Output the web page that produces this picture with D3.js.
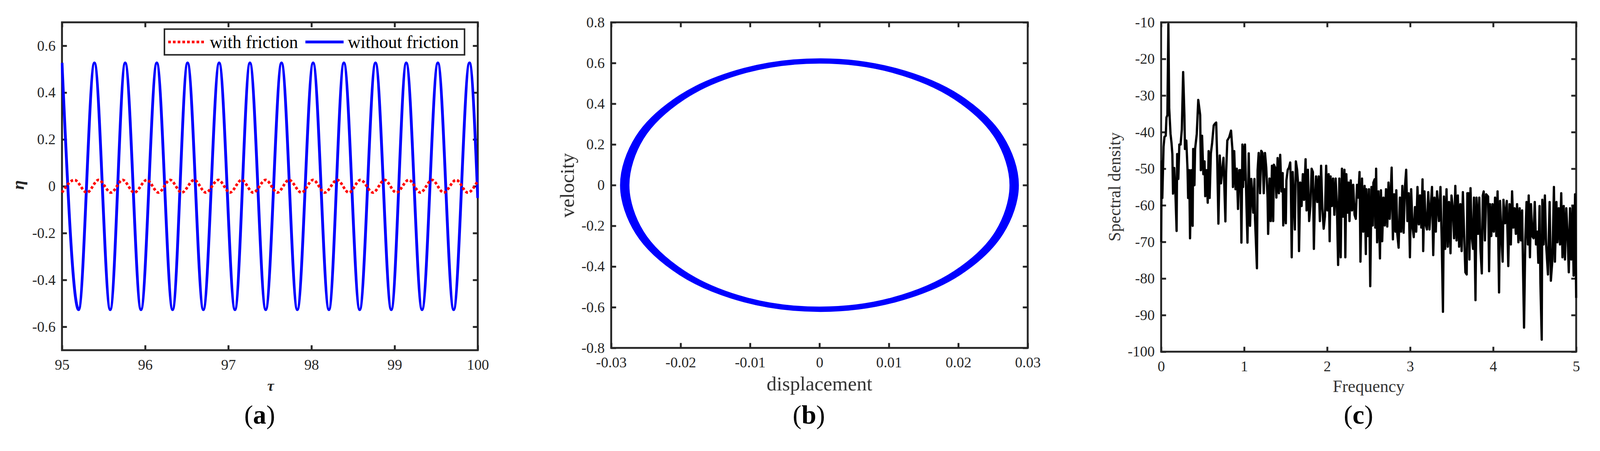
<!DOCTYPE html>
<html><head><meta charset="utf-8">
<script src="https://cdn.jsdelivr.net/npm/d3@7"></script>
<style>html,body{margin:0;padding:0;background:#fff;overflow:hidden;} svg{display:block;}</style>
</head><body>
<svg id="fig" width="100%" viewBox="0 0 4233 1154" preserveAspectRatio="xMinYMin meet"></svg>
<script>
// ---------------- DATA ----------------
// (a) time history
const tauTicks = [95, 96, 97, 98, 99, 100];
const tauTickLabels = ["95", "96", "97", "98", "99", "100"];
const etaTicks = [-0.6, -0.4, -0.2, 0, 0.2, 0.4, 0.6];
const etaTickLabels = ["-0.6", "-0.4", "-0.2", "0", "0.2", "0.4", "0.6"];
const seriesNames = ["with friction", "without friction"];
// extrema (tau, eta)
const withoutFriction = [
  [95.00, 0.527], [95.20, -0.527], [95.39, 0.527], [95.58, -0.527], [95.76, 0.527], [95.95, -0.527],
  [96.14, 0.527], [96.33, -0.527], [96.51, 0.527], [96.70, -0.527], [96.89, 0.527], [97.08, -0.527],
  [97.26, 0.527], [97.45, -0.527], [97.64, 0.527], [97.83, -0.527], [98.02, 0.527], [98.21, -0.527],
  [98.39, 0.527], [98.58, -0.527], [98.77, 0.527], [98.96, -0.527], [99.14, 0.527], [99.33, -0.527],
  [99.52, 0.527], [99.71, -0.527], [99.90, 0.527], [100.0, -0.05]
];
const withFriction = [
  [95.00, -0.027], [95.15, 0.027], [95.30, -0.027], [95.44, 0.027], [95.59, -0.027], [95.73, 0.027],
  [95.87, -0.027], [96.02, 0.027], [96.16, -0.027], [96.30, 0.027], [96.44, -0.027], [96.59, 0.027],
  [96.73, -0.027], [96.88, 0.027], [97.02, -0.027], [97.16, 0.027], [97.30, -0.027], [97.45, 0.027],
  [97.59, -0.027], [97.73, 0.027], [97.88, -0.027], [98.02, 0.027], [98.16, -0.027], [98.31, 0.027],
  [98.45, -0.027], [98.59, 0.027], [98.74, -0.027], [98.88, 0.027], [99.02, -0.027], [99.17, 0.027],
  [99.31, -0.027], [99.45, 0.027], [99.59, -0.027], [99.74, 0.027], [99.88, -0.027], [100.0, 0.023]
];

// (b) phase portrait
const dispTicks = [-0.03, -0.02, -0.01, 0, 0.01, 0.02, 0.03];
const dispTickLabels = ["-0.03", "-0.02", "-0.01", "0", "0.01", "0.02", "0.03"];
const velTicks = [-0.8, -0.6, -0.4, -0.2, 0, 0.2, 0.4, 0.6, 0.8];
const velTickLabels = ["-0.8", "-0.6", "-0.4", "-0.2", "0", "0.2", "0.4", "0.6", "0.8"];
const orbitInner = [[0.0277,0],[0.0256,0.233],[0.0196,0.430],[0.0106,0.562],[0,0.608],[-0.0106,0.562],[-0.0196,0.430],[-0.0256,0.233],
  [-0.0277,0],[-0.0256,-0.233],[-0.0196,-0.430],[-0.0106,-0.562],[0,-0.608],[0.0106,-0.562],[0.0196,-0.430],[0.0256,-0.233]];
const orbitMiddle = [[0.02805,0],[0.0259,0.2335],[0.0198,0.4315],[0.0107,0.5635],[0.0001,0.610],[-0.0107,0.5635],[-0.0198,0.4315],[-0.0259,0.2335],
  [-0.02805,0],[-0.0259,-0.2335],[-0.0198,-0.4315],[-0.0107,-0.5635],[0.0001,-0.610],[0.0107,-0.5635],[0.0198,-0.4315],[0.0259,-0.2335]];
const orbitOuter = [[0.0284,0],[0.0262,0.234],[0.0201,0.433],[0.0109,0.565],[0.0002,0.612],[-0.0108,0.565],[-0.0200,0.433],[-0.0262,0.234],
  [-0.0284,0],[-0.0262,-0.234],[-0.0200,-0.433],[-0.0108,-0.565],[0.0002,-0.612],[0.0109,-0.565],[0.0201,-0.433],[0.0262,-0.234]];

// (c) spectrum (frequency, spectral density)
const freqTicks = [0, 1, 2, 3, 4, 5];
const freqTickLabels = ["0", "1", "2", "3", "4", "5"];
const psdTicks = [-100, -90, -80, -70, -60, -50, -40, -30, -20, -10];
const psdTickLabels = ["-100", "-90", "-80", "-70", "-60", "-50", "-40", "-30", "-20", "-10"];
const spectrum = [
 [0,-70],[0.006,-48],[0.014,-58],[0.029,-44],[0.040,-41.3],[0.055,-41],[0.064,-36],[0.075,-35.4],[0.087,-10.5],[0.097,-33.5],
 [0.113,-40.5],[0.125,-43],[0.135,-46],[0.143,-56.8],[0.158,-49.8],[0.173,-57.5],[0.186,-67],[0.193,-46],[0.207,-52.8],[0.219,-43.4],
 [0.234,-43.4],[0.249,-39.3],[0.265,-23.6],[0.280,-35.3],[0.287,-44.6],[0.303,-42.3],[0.318,-50.4],[0.325,-58],[0.338,-50.4],[0.348,-69],
 [0.363,-50.4],[0.379,-65.6],[0.386,-44.6],[0.401,-54.5],[0.409,-44.6],[0.429,-40.5],[0.447,-31.2],[0.470,-35.3],[0.478,-50.4],[0.493,-41],
 [0.508,-51.5],[0.523,-48],[0.531,-57.5],[0.546,-50.4],[0.561,-59.3],[0.572,-45.2],[0.584,-58],[0.599,-45.8],[0.614,-43],[0.633,-38.2],
 [0.648,-37.7],[0.663,-37.4],[0.675,-47],[0.690,-65],[0.706,-46.4],[0.721,-54],[0.736,-50.4],[0.751,-47],[0.774,-64.4],[0.782,-51.5],
 [0.797,-42.3],[0.820,-41.4],[0.842,-39.6],[0.858,-44.6],[0.865,-55],[0.880,-45.2],[0.896,-55.6],[0.911,-50],[0.926,-61],[0.941,-50.4],
 [0.957,-50.4],[0.967,-70.2],[0.979,-43.4],[0.987,-55],[0.995,-44],[1.003,-53],[1.010,-43.4],[1.025,-57.5],[1.040,-70.2],[1.055,-45.8],
 [1.071,-65.6],[1.086,-52.8],[1.109,-62],[1.124,-52.8],[1.131,-63.8],[1.154,-77.2],[1.162,-50.4],
 [1.175,-45.7],[1.191,-56.7],[1.206,-45.1],[1.221,-45.7],[1.236,-56.7],[1.251,-45.7],[1.266,-49.7],[1.282,-57.9],[1.289,-67.8],[1.305,-52.7],
 [1.320,-64.3],[1.335,-49.2],[1.350,-64.3],[1.358,-48.9],[1.373,-49.7],[1.388,-57.9],[1.403,-47.1],[1.418,-56.7],[1.434,-46.2],[1.449,-56.2],
 [1.464,-51.2],[1.471,-65.5],[1.487,-55.6],[1.502,-64.9],[1.509,-53.2],[1.525,-50.3],[1.540,-49.7],[1.555,-48.3],[1.562,-53.8],[1.573,-74.2],
 [1.585,-50.9],[1.600,-59.1],[1.611,-66.6],[1.623,-48],[1.638,-50.3],[1.649,-53.8],[1.661,-72.5],[1.676,-53.8],[1.692,-60.2],[1.707,-51.5],
 [1.722,-58.5],[1.740,-47.4],[1.752,-61.4],[1.768,-50.3],[1.783,-64.3],[1.798,-60.2],[1.813,-50],[1.828,-50.9],[1.840,-71.9],[1.851,-59.1],
 [1.866,-52.1],[1.881,-59.1],[1.897,-52.1],[1.912,-64.3],[1.927,-49.2],[1.942,-60.8],[1.958,-66.4],[1.973,-63.1],[1.988,-49.2],[2.003,-61.4],
 [2.018,-51.5],[2.030,-69.8],[2.041,-52.1],[2.056,-60.2],[2.071,-52.7],[2.087,-62.6],[2.102,-52.7],[2.117,-59.7],[2.132,-76.3],[2.147,-52.7],
 [2.163,-74.2],[2.178,-50],[2.193,-63.1],[2.208,-50.3],[2.219,-74.2],[2.231,-51.5],[2.246,-62],[2.257,-53.8],[2.269,-64.3],[2.284,-53.2],
 [2.299,-61.4],[2.314,-54.4],[2.330,-62.6],[2.345,-63.7],[2.360,-54.4],[2.375,-57.9],[2.390,-50.9],[2.401,-75.4],
 [2.420,-52.7],[2.435,-67.2],[2.451,-54.7],[2.466,-73.3],[2.473,-55.6],[2.489,-68.4],[2.504,-55.6],[2.519,-82.1],[2.534,-55],[2.549,-65.5],
 [2.557,-53.8],[2.572,-52.9],[2.580,-66.1],[2.590,-50],[2.602,-70.1],[2.618,-56.2],[2.636,-74.5],[2.648,-55.9],[2.663,-69.8],[2.678,-57.9],
 [2.694,-65.5],[2.709,-55.6],[2.724,-65.8],[2.739,-53.8],[2.754,-63.7],[2.777,-49.7],[2.792,-69.3],[2.807,-57],[2.823,-67.2],[2.833,-55.9],
 [2.845,-67.8],[2.861,-71.6],[2.876,-57.9],[2.891,-67.2],[2.906,-54.7],[2.921,-67.5],[2.937,-55],[2.952,-50.3],[2.967,-64.3],[2.982,-56.7],
 [2.997,-74.2],[3.012,-55.6],[3.028,-65.8],[3.043,-68.7],[3.058,-60.5],[3.073,-67.2],[3.088,-55],[3.104,-65.2],[3.119,-57.3],[3.134,-66.1],
 [3.149,-52.9],[3.157,-72.5],[3.172,-56.2],[3.187,-65.2],[3.202,-66.6],[3.218,-56.4],[3.233,-66.6],[3.248,-60.2],[3.263,-55],[3.278,-73.6],
 [3.293,-57.9],[3.309,-67.2],[3.324,-56.2],[3.347,-64.3],[3.365,-55],[3.380,-69.6],[3.395,-89.1],[3.407,-57.6],[3.422,-71.9],[3.438,-55.6],
 [3.453,-71.3],[3.468,-59.1],[3.486,-73.1],[3.498,-57.3],[3.514,-60.8],[3.529,-69],[3.544,-54.7],[3.559,-69.6],[3.574,-57.3],[3.590,-71.3],
 [3.605,-59.7],[3.620,-72.5],[3.635,-56.4],[3.650,-67.8],[3.665,-78.3],
 [3.681,-78.9],[3.689,-56.7],[3.704,-56.7],[3.714,-74.8],[3.727,-55.3],[3.742,-68.4],[3.757,-71.9],[3.769,-57.9],[3.787,-85.9],[3.799,-57.9],
 [3.818,-67.8],[3.833,-57.9],[3.848,-72.5],[3.863,-78.6],[3.875,-57.3],[3.886,-56.2],[3.901,-69.6],[3.916,-57],[3.939,-57.6],[3.951,-78],
 [3.962,-59.7],[3.977,-68.4],[3.992,-59.7],[4.007,-67.2],[4.023,-57.9],[4.038,-68.4],[4.053,-56.2],[4.071,-83.8],[4.083,-58.8],[4.099,-67.8],
 [4.114,-75.4],[4.124,-58.5],[4.144,-64.9],[4.164,-58.8],[4.182,-76.6],[4.197,-59.7],[4.213,-70.7],[4.228,-56.2],[4.243,-66.1],[4.258,-60.8],
 [4.273,-67.8],[4.288,-59.7],[4.304,-70.1],[4.319,-60.8],[4.334,-69.6],[4.349,-61.4],[4.360,-77.7],[4.372,-93.4],[4.387,-69.6],[4.402,-59.1],
 [4.418,-70.7],[4.428,-57.3],[4.443,-74.2],[4.456,-59.7],[4.471,-68.4],[4.486,-69],[4.501,-59.1],[4.516,-70.7],[4.531,-67.2],[4.544,-75.7],
 [4.559,-60.2],[4.569,-81.2],[4.585,-96.7],[4.592,-58.5],[4.607,-70.7],[4.623,-57.3],[4.638,-70.7],[4.660,-78.9],[4.680,-59.1],[4.695,-80.6],
 [4.714,-74.8],[4.732,-55],[4.744,-75.4],[4.762,-59.1],[4.774,-70.1],[4.790,-60.8],[4.805,-70.7],[4.820,-56.7],[4.835,-74.2],[4.850,-60.2],
 [4.865,-74.8],[4.881,-60.8],[4.896,-67.8],[4.911,-78.3],[4.926,-60.8],[4.941,-74.8],[4.957,-60.2],[4.969,-79.2],[4.987,-57],[5.0,-85.3]
];

// ---------------- DRAWING ----------------
const svg = d3.select("#fig");
const AX = "#262626";
const SERIF = "'Liberation Serif','Times New Roman',Times,serif";
const TICK_FS = 39, TICK_LEN = 13, AX_W = 5;

function frame(x, y, xt, xl, yt, yl, xPad) {
  const g = svg.append("g");
  const [x0, x1] = x.range();
  const [y0, y1] = y.range();
  g.append("g").attr("transform", `translate(0,${y0})`)
    .call(d3.axisBottom(x).tickValues(xt).tickFormat((d, i) => xl[i]).tickSizeInner(-TICK_LEN).tickSizeOuter(0).tickPadding(xPad));
  g.append("g").attr("transform", `translate(0,${y1})`)
    .call(d3.axisTop(x).tickValues(xt).tickFormat("").tickSizeInner(-TICK_LEN).tickSizeOuter(0));
  g.append("g").attr("transform", `translate(${x0},0)`)
    .call(d3.axisLeft(y).tickValues(yt).tickFormat((d, i) => yl[i]).tickSizeInner(-TICK_LEN).tickSizeOuter(0).tickPadding(17));
  g.append("g").attr("transform", `translate(${x1},0)`)
    .call(d3.axisRight(y).tickValues(yt).tickFormat("").tickSizeInner(-TICK_LEN).tickSizeOuter(0));
  g.selectAll(".domain").remove();
  g.selectAll(".tick line").attr("stroke", AX).attr("stroke-width", AX_W);
  g.selectAll("g").attr("font-family", SERIF).attr("font-size", TICK_FS);
  g.selectAll(".tick text").attr("fill", AX);
  g.append("rect").attr("x", x0).attr("y", y1).attr("width", x1 - x0).attr("height", y0 - y1)
    .attr("fill", "none").attr("stroke", AX).attr("stroke-width", AX_W);
  return g;
}
function clip(id, x, y) {
  const [x0, x1] = x.range(); const [y0, y1] = y.range();
  svg.append("clipPath").attr("id", id).append("rect")
    .attr("x", x0 - 3).attr("y", y1 - 3).attr("width", x1 - x0 + 6).attr("height", y0 - y1 + 6);
  return `url(#${id})`;
}

// ===== panel (a) =====
const xA = d3.scaleLinear().domain([95, 100]).range([164, 1264]);
const yA = d3.scaleLinear().domain([-0.7, 0.7]).range([926, 59]);
frame(xA, yA, tauTicks, tauTickLabels, etaTicks, etaTickLabels, 24);
const lineA = d3.line().x(d => xA(d[0])).y(d => yA(d[1])).curve(d3.curveMonotoneX);
const gA = svg.append("g").attr("clip-path", clip("clipA", xA, yA));
gA.append("path").attr("d", lineA(withoutFriction)).attr("fill", "none")
  .attr("stroke", "#0000ff").attr("stroke-width", 7.5).attr("stroke-linejoin", "round");
gA.append("path").attr("d", lineA(withFriction)).attr("fill", "none")
  .attr("stroke", "#ff0000").attr("stroke-width", 7).attr("stroke-dasharray", "7 5.5");
// legend
const lg = svg.append("g");
lg.append("rect").attr("x", 435).attr("y", 77).attr("width", 794).attr("height", 68)
  .attr("fill", "#fff").attr("stroke", AX).attr("stroke-width", 4);
lg.append("line").attr("x1", 445).attr("x2", 540).attr("y1", 111).attr("y2", 111)
  .attr("stroke", "#ff0000").attr("stroke-width", 7).attr("stroke-dasharray", "7 5.5");
lg.append("text").attr("x", 555).attr("y", 127).text(seriesNames[0])
  .attr("font-family", SERIF).attr("font-size", 47).attr("fill", "#000");
lg.append("line").attr("x1", 808).attr("x2", 909).attr("y1", 111).attr("y2", 111)
  .attr("stroke", "#0000ff").attr("stroke-width", 7.5);
lg.append("text").attr("x", 920).attr("y", 127).text(seriesNames[1])
  .attr("font-family", SERIF).attr("font-size", 47).attr("fill", "#000");
// labels
svg.append("text").attr("transform", "translate(63,489) rotate(-90)").attr("text-anchor", "middle")
  .attr("font-family", SERIF).attr("font-size", 46).attr("font-weight", "bold").attr("font-style", "italic")
  .attr("fill", AX).text("η");
svg.append("text").attr("x", 716).attr("y", 1033).attr("text-anchor", "middle")
  .attr("font-family", SERIF).attr("font-size", 40).attr("font-weight", "bold").attr("font-style", "italic")
  .attr("fill", AX).text("τ");

// ===== panel (b) =====
const xB = d3.scaleLinear().domain([-0.03, 0.03]).range([1617, 2719]);
const yB = d3.scaleLinear().domain([-0.8, 0.8]).range([920, 59]);
frame(xB, yB, dispTicks, dispTickLabels, velTicks, velTickLabels, 24);
const loopLine = d3.line().x(d => xB(d[0])).y(d => yB(d[1])).curve(d3.curveCatmullRomClosed);
const gB = svg.append("g");
[orbitInner, orbitMiddle, orbitOuter].forEach(o => {
  gB.append("path").attr("d", loopLine(o)).attr("fill", "none")
    .attr("stroke", "#0000ff").attr("stroke-width", 12);
});
svg.append("text").attr("transform", "translate(1518,490) rotate(-90)").attr("text-anchor", "middle")
  .attr("font-family", SERIF).attr("font-size", 53).attr("fill", "#333").text("velocity");
svg.append("text").attr("x", 2168).attr("y", 1032).attr("text-anchor", "middle")
  .attr("font-family", SERIF).attr("font-size", 53).attr("fill", "#333").text("displacement");

// ===== panel (c) =====
const xC = d3.scaleLinear().domain([0, 5]).range([3072, 4170]);
const yC = d3.scaleLinear().domain([-100, -10]).range([930, 59]);
frame(xC, yC, freqTicks, freqTickLabels, psdTicks, psdTickLabels, 24);
const lineC = d3.line().x(d => xC(d[0])).y(d => yC(d[1]));
svg.append("g").attr("clip-path", clip("clipC", xC, yC))
  .append("path").attr("d", lineC(spectrum)).attr("fill", "none")
  .attr("stroke", "#000").attr("stroke-width", 6).attr("stroke-linejoin", "round");
svg.append("text").attr("transform", "translate(2964,494) rotate(-90)").attr("text-anchor", "middle")
  .attr("font-family", SERIF).attr("font-size", 45).attr("fill", "#333").text("Spectral density");
svg.append("text").attr("x", 3621).attr("y", 1037).attr("text-anchor", "middle")
  .attr("font-family", SERIF).attr("font-size", 45).attr("fill", "#333").text("Frequency");

// ===== captions =====
const captions = [["a", 687], ["b", 2140], ["c", 3594]];
captions.forEach(([c, cx]) => {
  const t = svg.append("text").attr("x", cx).attr("y", 1120).attr("text-anchor", "middle")
    .attr("font-family", SERIF).attr("font-size", 70).attr("fill", "#000");
  t.append("tspan").text("(");
  t.append("tspan").attr("font-weight", "bold").text(c);
  t.append("tspan").text(")");
});
</script>
</body></html>
